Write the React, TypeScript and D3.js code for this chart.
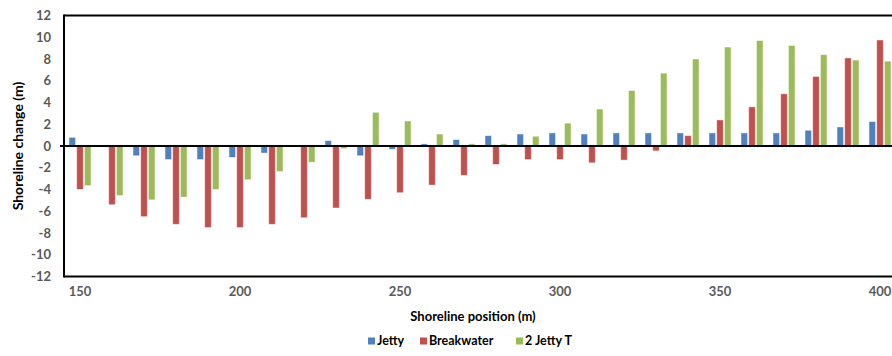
import React from "react";
import * as d3 from "d3";

const positions = [150, 160, 170, 180, 190, 200, 210, 220, 230, 240, 250, 260, 270, 280, 290, 300, 310, 320, 330, 340, 350, 360, 370, 380, 390, 400];
const jetty = [0.8, -0.1, -0.9, -1.25, -1.25, -1.05, -0.65, 0, 0.5, -0.9, -0.3, 0.2, 0.6, 0.95, 1.1, 1.2, 1.1, 1.2, 1.2, 1.2, 1.2, 1.2, 1.2, 1.45, 1.75, 2.25];
const breakwater = [-4.0, -5.4, -6.5, -7.2, -7.5, -7.5, -7.2, -6.6, -5.7, -4.9, -4.3, -3.6, -2.7, -1.7, -1.25, -1.25, -1.55, -1.3, -0.45, 0.95, 2.4, 3.6, 4.8, 6.4, 8.1, 9.75];
const jettyT = [-3.65, -4.55, -4.95, -4.7, -4.0, -3.1, -2.35, -1.5, -0.25, 3.1, 2.3, 1.1, 0.2, 0.2, 0.9, 2.1, 3.4, 5.1, 6.7, 8.0, 9.1, 9.7, 9.25, 8.4, 7.9, 7.8];
const seriesNames = ["Jetty", "Breakwater", "2 Jetty T"];
const seriesColors = ["#4F81BD", "#C0504D", "#9BBB59"];
const yTicks = [-12, -10, -8, -6, -4, -2, 0, 2, 4, 6, 8, 10, 12];
const xTickLabels = [150, 200, 250, 300, 350, 400];

export default function App() {
  const W = 892;
  const H = 356;
  const left = 64;
  const top = 15.5;
  const bottom = 276.5;
  const step = 32;
  const x = d3
    .scaleBand<number>()
    .domain(positions)
    .range([left, left + positions.length * step])
    .padding(0);
  const inner = d3.scaleBand<number>().domain([0, 1, 2]).range([5, 27]).paddingInner(0.15);
  const y = d3.scaleLinear().domain([-12, 12]).range([bottom, top]);
  const data = [jetty, breakwater, jettyT];
  const font = "Lato, 'Open Sans', sans-serif";

  return (
    <svg
      width={W}
      height={H}
      style={{ position: "absolute", left: 0, top: 0, background: "#fff" }}
      fontFamily={font}
    >
      {data.map((vals, s) =>
        vals.map((v, i) => {
          const bx = (x(positions[i]) as number) + (inner(s) as number);
          const y0 = y(0);
          const y1 = y(v);
          return (
            <rect
              key={`${s}-${i}`}
              x={bx}
              y={Math.min(y0, y1)}
              width={inner.bandwidth()}
              height={Math.abs(y1 - y0)}
              fill={seriesColors[s]}
              stroke="#ffffff"
              strokeOpacity={0.6}
              strokeWidth={0.8}
            />
          );
        })
      )}
      {/* frame */}
      <line x1={left} x2={W} y1={top} y2={top} stroke="#000" strokeWidth={2} />
      <line x1={left} x2={W} y1={bottom} y2={bottom} stroke="#000" strokeWidth={2} />
      <line x1={left} x2={left} y1={top - 1} y2={bottom + 1} stroke="#000" strokeWidth={2} />
      <line x1={left - 4} x2={W} y1={y(0)} y2={y(0)} stroke="#000" strokeWidth={1.8} />
      {/* y ticks */}
      {yTicks.map((t) => (
        <text
          key={t}
          x={51}
          y={y(t)}
          dy="0.35em"
          textAnchor="end"
          fontSize={13}
          fontWeight="bold"
          fill="#595959"
        >
          {t}
        </text>
      ))}
      {/* x ticks */}
      {xTickLabels.map((t) => (
        <text
          key={t}
          x={(x(t) as number) + x.bandwidth() / 2}
          y={291}
          dy="0.35em"
          textAnchor="middle"
          fontSize={13}
          fontWeight="bold"
          fill="#595959"
        >
          {t}
        </text>
      ))}
      <text x={473} y={316} dy="0.35em" textAnchor="middle" fontSize={13} fontWeight="bold" fill="#000">
        Shoreline position (m)
      </text>
      <text
        transform={`translate(18,${y(0)}) rotate(-90)`}
        dy="0.35em"
        textAnchor="middle"
        fontSize={14}
        fontWeight="bold"
        fill="#000"
      >
        Shoreline change (m)
      </text>
      {/* legend */}
      {seriesNames.map((n, s) => {
        const lx = [368, 420, 516][s];
        return (
          <g key={n} transform={`translate(${lx},341)`}>
            <rect x={0} y={-3.5} width={7} height={7} fill={seriesColors[s]} />
            <text x={9} dy="0.35em" fontSize={12.5} fontWeight="bold" fill="#000">
              {n}
            </text>
          </g>
        );
      })}
    </svg>
  );
}
